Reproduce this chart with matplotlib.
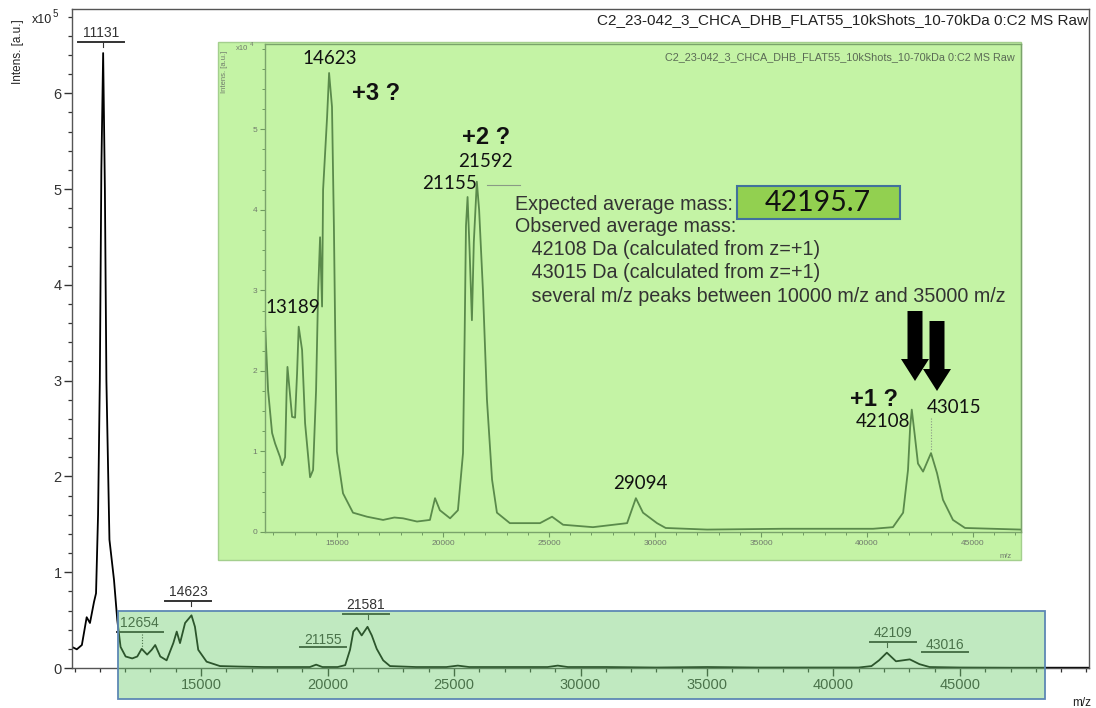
import matplotlib
matplotlib.use('Agg')
import matplotlib.pyplot as plt
from matplotlib.patches import Rectangle, FancyArrow
from matplotlib.ticker import MultipleLocator, FixedLocator

plt.rcParams['font.family'] = ['Liberation Sans', 'DejaVu Sans']

W, H = 1096, 708

# ---------------- data ----------------
main_mz = [9900, 10090, 10290, 10480, 10610, 10770, 10850, 10930, 11000, 11060, 11131, 11200, 11260,
           11380, 11560, 11690, 11820, 12020, 12280, 12480, 12654, 12870, 13050, 13189, 13390, 13640,
           13905, 14040, 14170, 14370, 14623, 14760, 14890, 15220, 15750, 16500, 17500, 18500, 19300,
           19550, 19800, 20400, 20700, 20890, 21020, 21155, 21350, 21581, 21750, 21945, 22200, 22470,
           23500, 24700, 25150, 25600, 27000, 28700, 29100, 29500, 31000, 33000, 35000, 37000, 39000,
           41000, 41500, 41800, 42109, 42470, 43016, 43400, 43800, 45000, 47000, 50100]
main_int = [0.22, 0.195, 0.24, 0.53, 0.47, 0.69, 0.78, 1.6, 3.0, 5.2, 6.42, 5.0, 3.0,
            1.34, 0.92, 0.5, 0.22, 0.12, 0.10, 0.12, 0.20, 0.14, 0.19, 0.24, 0.12, 0.08,
            0.26, 0.38, 0.26, 0.47, 0.55, 0.43, 0.19, 0.066, 0.02, 0.015, 0.01, 0.01, 0.01,
            0.035, 0.01, 0.01, 0.03, 0.19, 0.38, 0.42, 0.34, 0.43, 0.34, 0.2, 0.08, 0.02,
            0.01, 0.01, 0.025, 0.01, 0.01, 0.01, 0.025, 0.01, 0.01, 0.005, 0.01, 0.005, 0.005,
            0.005, 0.02, 0.08, 0.16, 0.07, 0.09, 0.04, 0.01, 0.005, 0.003, 0.003]  # x1e5

main_peak_mz = [11131, 12654, 14623, 21155, 21581, 42109, 43016]
main_peak_int = [6.42, 0.20, 0.55, 0.42, 0.43, 0.16, 0.09]
main_peak_labels = ['11131', '12654', '14623', '21155', '21581', '42109', '43016']

inset_mz = [11600, 11745, 11934, 12075, 12311, 12406, 12547, 12620, 12660, 12877, 13019, 13113, 13189,
            13349, 13491, 13726, 13868, 14009, 14104, 14198, 14292, 14340, 14528, 14623, 14760, 14850,
            14920, 14990, 15280, 15750, 16410, 17170, 17700, 18110, 18770, 19380, 19620, 19850, 20330,
            20700, 20940, 21020, 21080, 21155, 21250, 21360, 21450, 21592, 21700, 21880, 22070, 22310,
            22540, 23150, 24570, 25140, 25660, 27070, 28680, 29094, 29430, 30090, 30500, 32450, 36000,
            40280, 41220, 41700, 41930, 42030, 42108, 42250, 42400, 42640, 43015, 43300, 43580, 44050,
            44620, 47260]
inset_int = [2.6, 1.76, 1.23, 1.1, 0.93, 0.83, 0.93, 1.76, 2.05, 1.43, 1.42, 1.97, 2.55,
             2.26, 1.35, 0.68, 0.77, 1.76, 2.97, 3.66, 2.8, 4.25, 5.15, 5.7, 5.28, 3.8,
             2.3, 1.0, 0.48, 0.24, 0.19, 0.15, 0.18, 0.17, 0.13, 0.15, 0.42, 0.27, 0.17,
             0.27, 0.98, 2.5, 3.8, 4.16, 3.5, 2.63, 3.6, 4.35, 4.0, 3.0, 1.64, 0.65,
             0.24, 0.11, 0.11, 0.19, 0.09, 0.06, 0.11, 0.42, 0.24, 0.11, 0.05, 0.03, 0.04,
             0.04, 0.06, 0.24, 0.77, 1.3, 1.52, 1.2, 0.85, 0.75, 0.98, 0.73, 0.4, 0.15,
             0.05, 0.03]  # x1e4

inset_peak_mz = [14623, 13189, 21592, 21155, 29094, 42108, 43015]
inset_peak_int = [5.7, 2.55, 4.35, 4.16, 0.42, 1.52, 0.98]
inset_peak_labels = ['14623', '13189', '21592', '21155', '29094', '42108', '43015']

x_ticks = [15000, 20000, 25000, 30000, 35000, 40000, 45000]
main_y_ticks = [0, 1, 2, 3, 4, 5, 6]
inset_y_ticks = [0, 1, 2, 3, 4, 5]

spectrum_title = 'C2_23-042_3_CHCA_DHB_FLAT55_10kShots_10-70kDa 0:C2 MS Raw'
expected_label = 'Expected average mass:'
expected_mass = '42195.7'
observed_lines = ['Observed average mass:',
                  '   42108 Da (calculated from z=+1)',
                  '   43015 Da (calculated from z=+1)',
                  '   several m/z peaks between 10000 m/z and 35000 m/z']
charge_labels = ['+3 ?', '+2 ?', '+1 ?']

assert len(main_mz) == len(main_int)
assert len(inset_mz) == len(inset_int)

# ---------------- layout helpers ----------------
def rect(x0, y0, x1, y1):
    return [x0 / W, 1 - y1 / H, (x1 - x0) / W, (y1 - y0) / H]

fig = plt.figure(figsize=(W / 100, H / 100), dpi=100)
fig.patch.set_facecolor('white')

def overlay(z):
    o = fig.add_axes([0, 0, 1, 1], zorder=z)
    o.set_xlim(0, W)
    o.set_ylim(H, 0)
    o.axis('off')
    return o

def to_px(axis, x, y):
    dx, dy = axis.transData.transform((x, y))
    return dx, H - dy

# ---------------- main axes ----------------
ax = fig.add_axes(rect(72, 9, 1089, 668), zorder=0)
ax.plot(main_mz, main_int, color='black', lw=1.3, solid_joinstyle='round')
ax.set_xlim(9900, 50100)
ax.set_ylim(0, 6.88)
ax.xaxis.set_major_locator(FixedLocator(x_ticks))
ax.xaxis.set_minor_locator(MultipleLocator(1000))
ax.yaxis.set_major_locator(FixedLocator(main_y_ticks))
ax.yaxis.set_minor_locator(MultipleLocator(0.2))
ax.tick_params(which='major', direction='out', length=5.5, width=1.0, labelsize=10.5,
               color='#333333', labelcolor='#333333', pad=2)
ax.tick_params(which='minor', direction='out', length=3, width=0.9, color='#333333')
for s in ax.spines.values():
    s.set_color('#555555')
    s.set_linewidth(1.0)

# main peak labels (under the green overlay)
ov0 = overlay(0.5)
# (text dx, text dy, underline dy, connector) relative to the peak pixel
main_label_layout = [(-2, -20, -11, 'tick'), (-2, -26, -17, 'dotted'), (-3, -23, -14, 'tick'),
                     (-34, 12, 19, None), (-2, -22, -13, 'tick'), (6, -20, -11, 'tick'),
                     (35, -14, -7, None)]
for mz, it, lab, (tdx, tdy, udy, conn) in zip(main_peak_mz, main_peak_int, main_peak_labels, main_label_layout):
    px, py = to_px(ax, mz, it)
    ov0.text(px + tdx, py + tdy, lab, ha='center', va='center', fontsize=10, color='#333333')
    ov0.plot([px + tdx - 23, px + tdx + 23], [py + udy, py + udy], color='#333333', lw=1.4)
    if conn == 'tick':
        ov0.plot([px, px], [py + udy, py + udy + 5], color='#333333', lw=0.8)
    elif conn == 'dotted':
        ov0.plot([px, px], [py + udy + 2, py - 1], color='#333333', lw=0.8, ls=(0, (1, 1.5)))

# main texts
ov0.text(1088, 20, spectrum_title, ha='right', va='center', fontsize=11, color='#222222')
ov0.text(18, 52, 'Intens. [a.u.]', rotation=90, ha='center', va='center', fontsize=8.5, color='#222222')
ov0.text(32, 20, 'x10', ha='left', va='center', fontsize=9, color='#222222')
ov0.text(53, 14, '5', ha='left', va='center', fontsize=7, color='#222222')
ov0.text(1082, 703, 'm/z', ha='center', va='center', fontsize=8.5, color='#222222')

# ---------------- overlays ----------------
ov1 = overlay(1)
ov1.add_patch(Rectangle((118, 611), 1045 - 118, 699 - 611,
                        facecolor=(0.42, 0.80, 0.42, 0.42), edgecolor='#5d88b4', lw=1.3))
ov1.add_patch(Rectangle((218, 42), 1021 - 218, 560 - 42,
                        facecolor='#c4f3a5', edgecolor='#a4cf8e', lw=1.0))

# ---------------- inset axes ----------------
iax = fig.add_axes(rect(265, 44, 1021, 532), zorder=2)
iax.patch.set_alpha(0)
iline = '#5a8a4b'
iax.plot(inset_mz, inset_int, color=iline, lw=1.3, solid_joinstyle='round')
iax.set_xlim(11600, 47260)
iax.set_ylim(0, 6.06)
iax.xaxis.set_major_locator(FixedLocator(x_ticks))
iax.xaxis.set_minor_locator(MultipleLocator(1000))
iax.yaxis.set_major_locator(FixedLocator(inset_y_ticks))
iax.yaxis.set_minor_locator(MultipleLocator(0.25))
iax.tick_params(which='major', direction='out', length=3.5, width=0.8, labelsize=6,
                color='#6f9a60', labelcolor='#707a6c', pad=2)
iax.tick_params(which='minor', direction='out', length=2, width=0.7, color='#6f9a60')
for s in iax.spines.values():
    s.set_color('#7aa36b')
    s.set_linewidth(1.0)

# ---------------- inset annotations ----------------
ov2 = overlay(3)
ov2.text(1015, 57, spectrum_title, ha='right', va='center', fontsize=7.8, color='#5a6a55')
ov2.text(1012, 557, 'm/z', ha='right', va='center', fontsize=5.5, color='#707a6c')
ov2.text(224, 72, 'Intens. [a.u.]', rotation=90, ha='center', va='center', fontsize=5.5, color='#707a6c')
ov2.text(236, 48, 'x10', ha='left', va='center', fontsize=5.5, color='#707a6c')
ov2.text(250, 45, '4', ha='left', va='center', fontsize=4.5, color='#707a6c')

inset_label_layout = [(1, -14), (-6, -19), (9, -20), (-18, -14), (4, -15), (-29, 12), (23, -46)]
for mz, it, lab, (tdx, tdy) in zip(inset_peak_mz, inset_peak_int, inset_peak_labels, inset_label_layout):
    px, py = to_px(iax, mz, it)
    ov2.text(px + tdx, py + tdy, lab, ha='center', va='center', fontsize=13.5,
             family=['Lato', 'DejaVu Sans'], color='#111111')

# small guide lines
px, py = to_px(iax, 21592, 4.35)
ov2.plot([px + 10, px + 43], [py + 3, py + 3], color='#8a9a85', lw=0.8)
px, py = to_px(iax, 43015, 0.98)
ov2.plot([px, px], [py - 35, py - 2], color='#8a9a85', lw=0.8, ls=(0, (1, 1.5)))

charge_pos = [(376, 93), (486, 137), (874, 400)]
for lab, (x, y) in zip(charge_labels, charge_pos):
    ov2.text(x, y, lab, ha='center', va='center', fontsize=17, fontweight='bold', color='#111111')

ov2.text(515, 204, expected_label, ha='left', va='center', fontsize=14.2, color='#333333')
ov2.add_patch(Rectangle((737, 186), 163, 33, facecolor='#92d050', edgecolor='#41719c', lw=1.5))
ov2.text(818, 203, expected_mass, ha='center', va='center', fontsize=20.5,
         family=['Lato', 'DejaVu Sans'], color='#111111')
for i, line in enumerate(observed_lines):
    ov2.text(515, 226 + i * 23.5, line, ha='left', va='center', fontsize=14.2, color='#333333')

for x, y0, y1 in [(915, 311, 381), (937, 321, 391)]:
    ov2.add_patch(FancyArrow(x, y0, 0, y1 - y0, width=15, head_width=28, head_length=22,
                             length_includes_head=True, color='black', lw=0))

fig.savefig('out.png', dpi=100, facecolor='white')
